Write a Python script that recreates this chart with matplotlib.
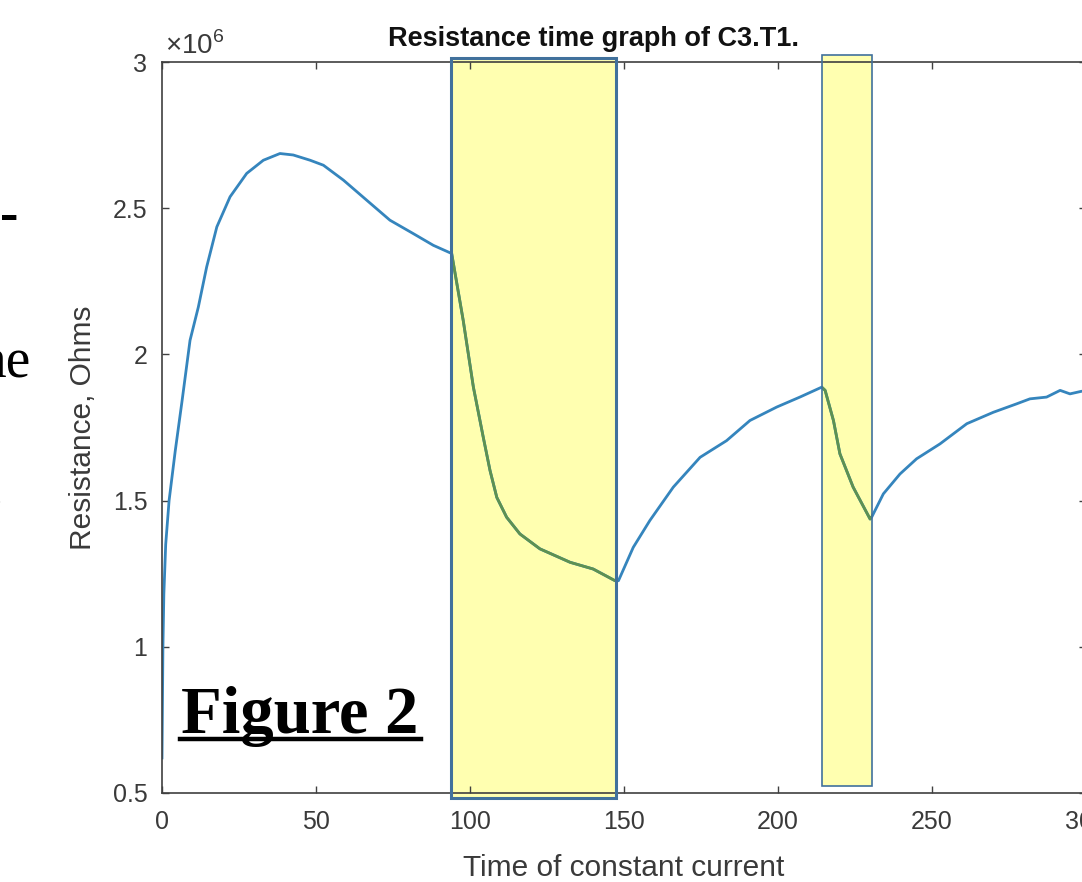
import matplotlib
matplotlib.use('Agg')
import matplotlib.pyplot as plt
from matplotlib.patches import Rectangle
from matplotlib.lines import Line2D

plt.rcParams['font.family'] = ['Liberation Sans', 'DejaVu Sans']
plt.rcParams['mathtext.fontset'] = 'custom'
plt.rcParams['mathtext.rm'] = 'Liberation Sans'

# time (s) and resistance (x1e6 ohms)
time_s = [0, 0.3, 0.6, 1.2, 2.3, 4.3, 6.5, 9.1, 11.8, 14.5, 17.8, 22.1, 27.5, 32.9, 38.3,
          42.6, 48.1, 52.4, 58.9, 66.5, 74, 81.6, 88.1, 94.05,
          97.8, 101.1, 104.3, 106.5, 108.7, 111.9, 116.2, 122.7, 132.5, 140, 147.1,
          148.2, 153, 158.4, 166, 174.7, 183.3, 190.9, 199.6, 207.1, 214.2,
          215.3, 218, 220.1, 224.4, 229.9,
          230.4, 234.2, 239.6, 245, 252.6, 261.3, 269.9, 277.5, 281.8, 287.2, 291.6,
          294.8, 298.6, 300]
resistance = [0.62, 1.0, 1.18, 1.35, 1.5, 1.67, 1.84, 2.048, 2.162, 2.299, 2.436, 2.539, 2.619,
              2.664, 2.687,
              2.682, 2.664, 2.647, 2.596, 2.527, 2.459, 2.413, 2.373, 2.345,
              2.116, 1.888, 1.717, 1.603, 1.511, 1.443, 1.386, 1.335, 1.289, 1.266, 1.226,
              1.226, 1.34, 1.432, 1.546, 1.648, 1.705, 1.774, 1.82, 1.854, 1.888,
              1.877, 1.774, 1.66, 1.546, 1.437,
              1.443, 1.523, 1.591, 1.643, 1.694, 1.763, 1.802, 1.831, 1.848, 1.854, 1.877,
              1.865, 1.874, 1.872]

# highlighted intervals (time) and their vertical extent
shade_start = [93.8, 214.3]
shade_end = [147.4, 230.5]
shade_bottom = [0.483, 0.524]
shade_top = [3.0137, 3.024]
shade_lw = [2.2, 1.2]

x_ticks = [0, 50, 100, 150, 200, 250, 300]
y_ticks = [0.5, 1, 1.5, 2, 2.5, 3]
y_ticklabels = ['0.5', '1', '1.5', '2', '2.5', '3']

W, H = 1082, 882
fig = plt.figure(figsize=(W / 100, H / 100), dpi=100)
ax = fig.add_axes([162 / W, 1 - 793 / H, 924 / W, 731 / H])

ax.plot(time_s, resistance, color='#3585bd', lw=2, zorder=2)

# shaded boxes: fill under the line, green copy of the line inside, border on top
for x0, x1, y0, y1, lw in zip(shade_start, shade_end, shade_bottom, shade_top, shade_lw):
  fill = Rectangle((x0, y0), x1 - x0, y1 - y0, facecolor='#ffffb0', edgecolor='none',
                   zorder=1, clip_on=False)
  ax.add_patch(fill)
  ln, = ax.plot(time_s, resistance, color='#5e9150', lw=2, zorder=3)
  clip = Rectangle((x0, y0), x1 - x0, y1 - y0, transform=ax.transData)
  ln.set_clip_path(clip)
  ax.add_patch(Rectangle((x0, y0), x1 - x0, y1 - y0, facecolor='none', edgecolor='#41719c',
                         lw=lw, zorder=4, clip_on=False))

ax.set_xlim(0, 300)
ax.set_ylim(0.5, 3)
ax.set_xticks(x_ticks)
ax.set_yticks(y_ticks)
ax.set_yticklabels(y_ticklabels)
ax.tick_params(direction='in', length=5, width=1, top=True, right=True,
               labelsize=18, labelcolor='#3a3a3a', color='#404040')
ax.tick_params(axis='x', pad=12)
ax.tick_params(axis='y', pad=10.5)
for s in ax.spines.values():
  s.set_color('#404040')
  s.set_linewidth(1.2)

ax.set_xlabel('Time of constant current', fontsize=21.5, color='#3a3a3a')
ax.xaxis.set_label_coords(0.5, -0.083)
ax.set_ylabel('Resistance, Ohms', fontsize=21.5, color='#3a3a3a')
ax.yaxis.set_label_coords((97 - 162) / 924, 0.5)

ax.text((165 - 162) / 924, (793 - 54) / 731, r'$\times10^{6}$', transform=ax.transAxes,
        fontsize=20, color='#3a3a3a', va='baseline', ha='left')

fig.text(594 / W, 1 - 46 / H, 'Resistance time graph of C3.T1.', ha='center', va='baseline',
         fontsize=19.5, fontweight='bold', color='#111111')

# pasted document text
fig.text(181 / W, 1 - 733 / H, 'Figure 2', family='Liberation Serif', fontweight='bold',
         fontsize=48, ha='left', va='baseline', color='black')
fig.add_artist(Line2D([180 / W, 421 / W], [1 - 739 / H, 1 - 739 / H], color='black', lw=3.2))
fig.text(31 / W, 1 - 377 / H, 'ne', family='Liberation Serif', fontsize=40, ha='right',
         va='baseline', color='black')
fig.text(18 / W, 1 - 231 / H, '-', family='Liberation Serif', fontweight='bold', fontsize=40,
         ha='right', va='baseline', color='black')
fig.text(3 / W, 1 - 505 / H, '.', family='Liberation Serif', fontsize=40, ha='right',
         va='baseline', color='black')

fig.savefig('out.png', dpi=100)
